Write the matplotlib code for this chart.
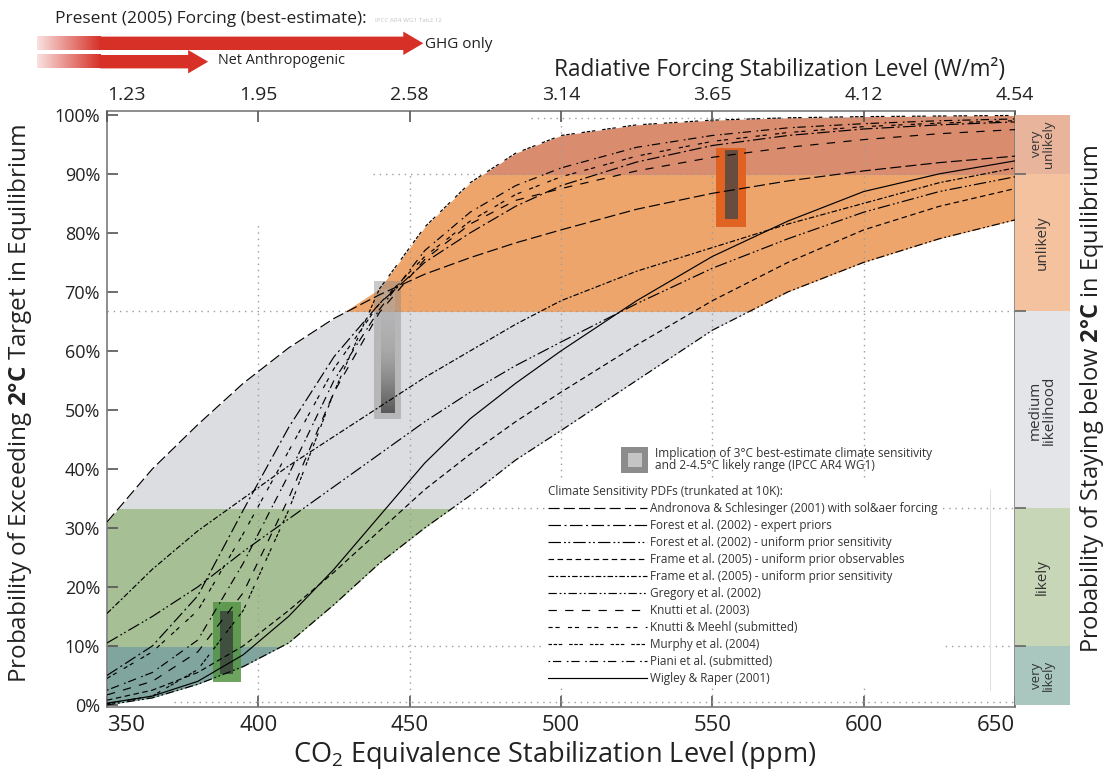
import numpy as np
import matplotlib
matplotlib.use("Agg")
import matplotlib.pyplot as plt
from matplotlib.lines import Line2D
from matplotlib.patches import Rectangle, Polygon
from matplotlib.colors import LinearSegmentedColormap, to_rgb

plt.rcParams['font.family'] = ['Open Sans', 'DejaVu Sans']
plt.rcParams['mathtext.fontset'] = 'custom'
plt.rcParams['mathtext.rm'] = 'Open Sans'
plt.rcParams['mathtext.bf'] = 'Open Sans:bold'
plt.rcParams['mathtext.it'] = 'Open Sans:italic'
plt.rcParams['lines.scale_dashes'] = False

# ---------------- data ----------------
PPM = [350, 365, 380, 395, 410, 425, 440, 455, 470, 485, 500, 525, 550, 575, 600, 625, 650]

andronova      = [31.0, 40.0, 47.5, 54.5, 60.5, 65.5, 69.5, 73.0, 75.8, 78.3, 80.5, 84.0, 86.7, 88.8, 90.5, 91.9, 93.0]
forest_expert  = [5.0, 10.0, 18.5, 33.0, 47.0, 59.0, 68.0, 75.0, 80.0, 84.5, 88.0, 92.0, 94.8, 96.5, 97.6, 98.3, 98.8]
forest_uniform = [10.5, 15.0, 20.0, 26.0, 31.5, 37.0, 42.5, 48.0, 53.0, 57.5, 61.5, 68.0, 74.0, 79.0, 83.5, 87.0, 89.5]
frame_obs      = [0.8, 2.5, 5.5, 10.0, 16.0, 22.5, 29.5, 36.5, 42.5, 48.0, 53.0, 61.0, 68.5, 75.0, 80.5, 84.5, 87.5]
frame_sens     = [15.5, 23.0, 29.5, 35.0, 40.5, 45.5, 50.5, 55.5, 60.0, 64.5, 68.5, 73.5, 77.5, 81.5, 85.0, 88.5, 91.0]
gregory        = [0.0, 1.2, 3.5, 6.5, 10.5, 17.0, 24.0, 30.0, 35.5, 41.5, 46.5, 55.0, 63.5, 70.0, 75.0, 79.0, 82.2]
knutti_2003    = [1.7, 4.0, 9.0, 19.0, 35.0, 53.0, 66.5, 75.5, 81.5, 85.5, 87.5, 90.5, 92.8, 94.5, 95.8, 96.8, 97.5]
knutti_meehl   = [4.5, 9.0, 16.0, 29.0, 43.0, 57.0, 68.0, 76.0, 82.0, 86.5, 89.5, 93.0, 95.5, 97.0, 98.0, 98.6, 99.0]
murphy         = [0.2, 1.5, 6.0, 16.0, 33.0, 53.0, 70.5, 81.0, 88.5, 93.5, 96.5, 98.3, 99.1, 99.5, 99.7, 99.8, 99.9]
piani          = [2.5, 5.5, 11.0, 24.0, 39.0, 55.0, 67.0, 77.0, 83.5, 88.0, 91.0, 94.5, 96.5, 97.8, 98.5, 99.0, 99.3]
wigley_raper   = [0.3, 1.5, 4.0, 8.5, 15.0, 23.0, 32.0, 41.0, 48.5, 54.5, 60.0, 68.5, 76.0, 82.0, 87.0, 90.0, 92.2]

CURVE_LABELS = [
    'Andronova & Schlesinger (2001) with sol&aer forcing',
    'Forest et al. (2002) - expert priors',
    'Forest et al. (2002) - uniform prior sensitivity',
    'Frame et al. (2005) - uniform prior observables',
    'Frame et al. (2005) - uniform prior sensitivity',
    'Gregory et al. (2002)',
    'Knutti et al. (2003)',
    'Knutti & Meehl (submitted)',
    'Murphy et al. (2004)',
    'Piani et al. (submitted)',
    'Wigley & Raper (2001)',
]

# IPCC likelihood bands (probability of exceeding, %)
BAND_EDGES = [0, 10, 33.3, 66.7, 90, 100]
SIDE_LABELS = ['very\nlikely', 'likely', 'medium\nlikelihood', 'unlikely', 'very\nunlikely']

# best-estimate climate sensitivity boxes (ppm centre, % ranges)
BOX_PPM = [389.6, 442.7, 556.2]
BOX_OUTER = [(3.9, 17.4), (48.4, 71.9), (81.0, 94.3)]
BOX_INNER = [(5.3, 16.0), (49.5, 70.4), (82.3, 94.0)]

XTICKS = [350, 400, 450, 500, 550, 600, 650]
TOP_TICK_LABELS = ['1.23', '1.95', '2.58', '3.14', '3.65', '4.12', '4.54']
YTICKS = [0, 10, 20, 30, 40, 50, 60, 70, 80, 90, 100]

# present forcing arrows (W/m2)
ARROW_FORCING = [2.63, 1.72]
ARROW_LABELS = ['GHG only', 'Net Anthropogenic']

# dotted guide lines
GRID_V = [(400, 0.5, 82), (450, 0.5, 90.5), (500, 0.5, 99.4), (550, 0.5, 99.4), (600, 0.5, 99.4)]
GRID_H = [(0.5, 372, 650), (10, 410, 650), (33.3, 465, 650), (66.7, 350, 650), (90, 438, 650), (99.4, 490, 650)]

# ---------------- styles ----------------
CURVES = [andronova, forest_expert, forest_uniform, frame_obs, frame_sens, gregory,
          knutti_2003, knutti_meehl, murphy, piani, wigley_raper]
STYLES = [
    (0, (8, 3)),
    (0, (9, 2.5, 1.5, 2.5)),
    (0, (9, 2.2, 1.3, 1.8, 1.3, 2.2)),
    (0, (4, 2.5)),
    (0, (4, 1.5, 1.5, 1.5)),
    (0, (6, 2, 1.3, 1.8, 1.3, 2)),
    (0, (6, 6)),
    (0, (3, 2, 3, 6)),
    (0, (2.5, 1.2, 2.5, 1.2, 2.5, 5)),
    (0, (1.2, 2, 6, 4)),
    '-',
]
BAND_COLORS = ['#7fa59e', '#a7bf95', '#dcdde0', '#eda56b', '#d98c6e']
SIDE_COLORS = ['#a9c7bf', '#c6d6b6', '#e4e5e8', '#f5c29f', '#e8b49c']
BOX_OUTER_COLORS = ['#539444', '#8a8a8a', '#e0601e']
BOX_OUTER_ALPHA = [0.85, 0.45, 0.95]
BOX_INNER_COLORS = ['#3d4a3d', None, '#5e4b40']
RED = '#d63027'
TXT = '#222222'

W, H = 1109, 771
fig = plt.figure(figsize=(W / 100, H / 100), dpi=100)


def fx(px):
    return px / W


def fy(py):
    return 1 - py / H


AX_L, AX_R, AX_T, AX_B = 107, 1015, 110.7, 706.7
ax = fig.add_axes([fx(AX_L), fy(AX_B), (AX_R - AX_L) / W, (AX_B - AX_T) / H])
XLIM = (350, 650)
YLIM = (-0.3, 100.7)


def axfx(px):
    return (px - AX_L) / (AX_R - AX_L)


def axfy(py):
    return (AX_B - py) / (AX_B - AX_T)


arr = np.array(CURVES)
upper = arr.max(axis=0)
lower = arr.min(axis=0)

for i, (lo, hi) in enumerate(zip(BAND_EDGES[:-1], BAND_EDGES[1:])):
    lo_c = lo - 2 if i == 0 else lo
    hi_c = hi + 2 if i == len(BAND_EDGES) - 2 else hi
    poly = ax.fill_between(PPM, lower, upper, color=BAND_COLORS[i], lw=0, zorder=1)
    clip = Rectangle((XLIM[0], lo_c), XLIM[1] - XLIM[0], hi_c - lo_c, transform=ax.transData)
    poly.set_clip_path(clip)

# dotted guides
GRID_KW = dict(color='#9c9c9c', lw=1.0, linestyle=(0, (1, 3.5)), zorder=2)
for x, y0, y1 in GRID_V:
    ax.plot([x, x], [y0, y1], **GRID_KW)
for y, x0, x1 in GRID_H:
    ax.plot([x0, x1], [y, y], **GRID_KW)

# boxes
OUTER_W = [9.05, 9.15, 9.8]
INNER_W = 4.3
for i, c in enumerate(BOX_PPM):
    lo, hi = BOX_OUTER[i]
    ax.add_patch(Rectangle((c - OUTER_W[i] / 2, lo), OUTER_W[i], hi - lo,
                           color=BOX_OUTER_COLORS[i], alpha=BOX_OUTER_ALPHA[i], lw=0, zorder=3))
    ilo, ihi = BOX_INNER[i]
    if BOX_INNER_COLORS[i] is not None:
        ax.add_patch(Rectangle((c - INNER_W / 2, ilo), INNER_W, ihi - ilo,
                               color=BOX_INNER_COLORS[i], alpha=0.92, lw=0, zorder=3.1))
    else:
        cmap = LinearSegmentedColormap.from_list('g', [(0.33, 0.33, 0.33, 0.95), (0.62, 0.62, 0.62, 0.6),
                                                       (0.75, 0.75, 0.75, 0.3)])
        grad = np.linspace(0, 1, 100).reshape(-1, 1)
        ax.imshow(grad, cmap=cmap, extent=[c - INNER_W / 2, c + INNER_W / 2, ilo, ihi],
                  origin='lower', aspect='auto', zorder=3.1, interpolation='bilinear')

# curves
for vals, st in zip(CURVES, STYLES):
    ax.plot(PPM, vals, color='black', lw=0.85, linestyle=st, zorder=4)

ax.set_xlim(*XLIM)
ax.set_ylim(*YLIM)
ax.set_aspect('auto')
ax.set_facecolor('white')

for sp in ax.spines.values():
    sp.set_color('#7a7a7a')
    sp.set_linewidth(1.2)
ax.set_xticks(XTICKS)
ax.set_yticks(YTICKS)
ax.set_yticklabels([f'{v}%' for v in YTICKS])
ax.tick_params(axis='x', direction='in', length=8, width=1.2, color='#555555', labelbottom=False)
ax.tick_params(axis='y', direction='in', length=8, width=1.2, color='#555555', pad=5,
               labelsize=13, labelcolor=TXT)
# bottom tick labels (first/last kept inside the frame, as in the reference)
for i, v in enumerate(XTICKS):
    ha = 'left' if i == 0 else ('right' if i == len(XTICKS) - 1 else 'center')
    ax.text(v, -0.031, str(v), transform=ax.get_xaxis_transform(), ha=ha, va='center',
            fontsize=16, color=TXT)

ax2 = ax.twiny()
ax2.set_xlim(*XLIM)
ax2.set_xticks(XTICKS)
ax2.set_xticklabels(TOP_TICK_LABELS)
ax2.tick_params(axis='x', direction='in', length=8, width=1.2, color='#555555', pad=5,
                labelsize=14, labelcolor=TXT)
for sp in ax2.spines.values():
    sp.set_visible(False)

# legend: implication box
ax.add_patch(Rectangle((axfx(621), axfy(473)), axfx(648) - axfx(621), axfy(447) - axfy(473),
                       transform=ax.transAxes, color='#8c8c8c', lw=0, zorder=6))
ax.add_patch(Rectangle((axfx(628), axfy(467)), axfx(642) - axfx(628), axfy(453) - axfy(467),
                       transform=ax.transAxes, color='#c4c4c4', lw=0, zorder=6.1))
ax.text(axfx(655), axfy(459.5),
        'Implication of 3°C best-estimate climate sensitivity\nand 2-4.5°C likely range (IPCC AR4 WG1)',
        transform=ax.transAxes, ha='left', va='center', fontsize=8.6, color='#333333',
        linespacing=0.95, zorder=6)

handles = [Line2D([], [], color='black', lw=0.85, linestyle=st) for st in STYLES]
leg = ax.legend(handles, CURVE_LABELS, loc='upper left',
                bbox_to_anchor=(axfx(545), axfy(482)), bbox_transform=ax.transAxes,
                fontsize=8.5, title='Climate Sensitivity PDFs (trunkated at 10K):', title_fontsize=8.5,
                alignment='left', frameon=True, framealpha=1, facecolor='white', edgecolor='none',
                fancybox=False, handlelength=8.4, handletextpad=0.25, labelspacing=0.34,
                borderpad=0.25, borderaxespad=0)
for t in leg.get_texts():
    t.set_color('#333333')
leg.get_title().set_color('#333333')
leg.set_zorder(7)
ax.plot([axfx(990), axfx(990)], [axfy(690), axfy(490)], transform=ax.transAxes,
        color='#e2e2e2', lw=0.8, zorder=8)

# right side panel
axr = fig.add_axes([fx(AX_R), fy(AX_B), (1070 - AX_R) / W, (AX_B - AX_T) / H])
axr.set_xlim(0, 1)
axr.set_ylim(*YLIM)
for i, (lo, hi) in enumerate(zip(BAND_EDGES[:-1], BAND_EDGES[1:])):
    axr.axhspan(lo, hi, color=SIDE_COLORS[i], lw=0)
    axr.text(0.5, (lo + hi) / 2, SIDE_LABELS[i], rotation=90, ha='center', va='center',
             fontsize=9.5 if i in (0, 4) else 11, color='#333333', linespacing=0.95)
for sp in axr.spines.values():
    sp.set_visible(False)
axr.set_xticks([])
axr.set_yticks(BAND_EDGES[1:-1])
axr.tick_params(axis='y', direction='in', length=8, width=1.2, color='#666666', labelleft=False)
axr.patch.set_alpha(0)

# axis titles
fig.text(fx(555), fy(755), 'CO$_2$ Equivalence Stabilization Level (ppm)', ha='center', va='center',
         fontsize=19.5, color=TXT)
fig.text(fx(20), fy(404), 'Probability of Exceeding $\\mathbf{2°C}$ Target in Equilibrium', rotation=90,
         ha='center', va='center', fontsize=17.5, color=TXT)
fig.text(fx(1092), fy(399), 'Probability of Staying below $\\mathbf{2°C}$ in Equilibrium', rotation=90,
         ha='center', va='center', fontsize=17, color=TXT)
fig.text(fx(780), fy(70), 'Radiative Forcing Stabilization Level (W/m²)', ha='center', va='center',
         fontsize=16.3, color=TXT)

# top: present forcing arrows
ov = fig.add_axes([0, 0, 1, 1], zorder=10)
ov.set_xlim(0, W)
ov.set_ylim(H, 0)
ov.axis('off')
ov.patch.set_alpha(0)

ARROW_Y = [43.3, 61.7]
SHAFT_H, HEAD_H, HEAD_L, X0, XF = 6.7, 11.7, 20, 100, 37
rgb = to_rgb(RED)
for F, yc in zip(ARROW_FORCING, ARROW_Y):
    ppm = 278 * np.exp(F / 5.35)
    xt = ax.transData.transform((ppm, 0))[0]
    ov.add_patch(Polygon([(X0, yc - SHAFT_H), (xt - HEAD_L, yc - SHAFT_H), (xt - HEAD_L, yc - HEAD_H),
                          (xt, yc), (xt - HEAD_L, yc + HEAD_H), (xt - HEAD_L, yc + SHAFT_H),
                          (X0, yc + SHAFT_H)], closed=True, color=RED, lw=0))
    grad = np.zeros((1, 64, 4))
    grad[..., 0], grad[..., 1], grad[..., 2] = rgb
    grad[..., 3] = np.linspace(0.15, 1, 64)
    ov.imshow(grad, extent=[XF, X0 + 0.5, yc + SHAFT_H, yc - SHAFT_H], aspect='auto',
              interpolation='bilinear')
ov.set_xlim(0, W)
ov.set_ylim(H, 0)

ov.text(55, 19, 'Present (2005) Forcing (best-estimate):', ha='left', va='center', fontsize=12.5, color=TXT)
ov.text(375, 21, 'IPCC AR4 WG1 Tab2.12', ha='left', va='center', fontsize=4.5, color='#c4c4c4')
ov.text(425, 44, ARROW_LABELS[0], ha='left', va='center', fontsize=11, color=TXT)
ov.text(218, 60, ARROW_LABELS[1], ha='left', va='center', fontsize=10.4, color=TXT)

fig.canvas.draw()
tl = ax2.get_xticklabels()
tl[0].set_horizontalalignment('left')

fig.savefig('out.png', dpi=100)
